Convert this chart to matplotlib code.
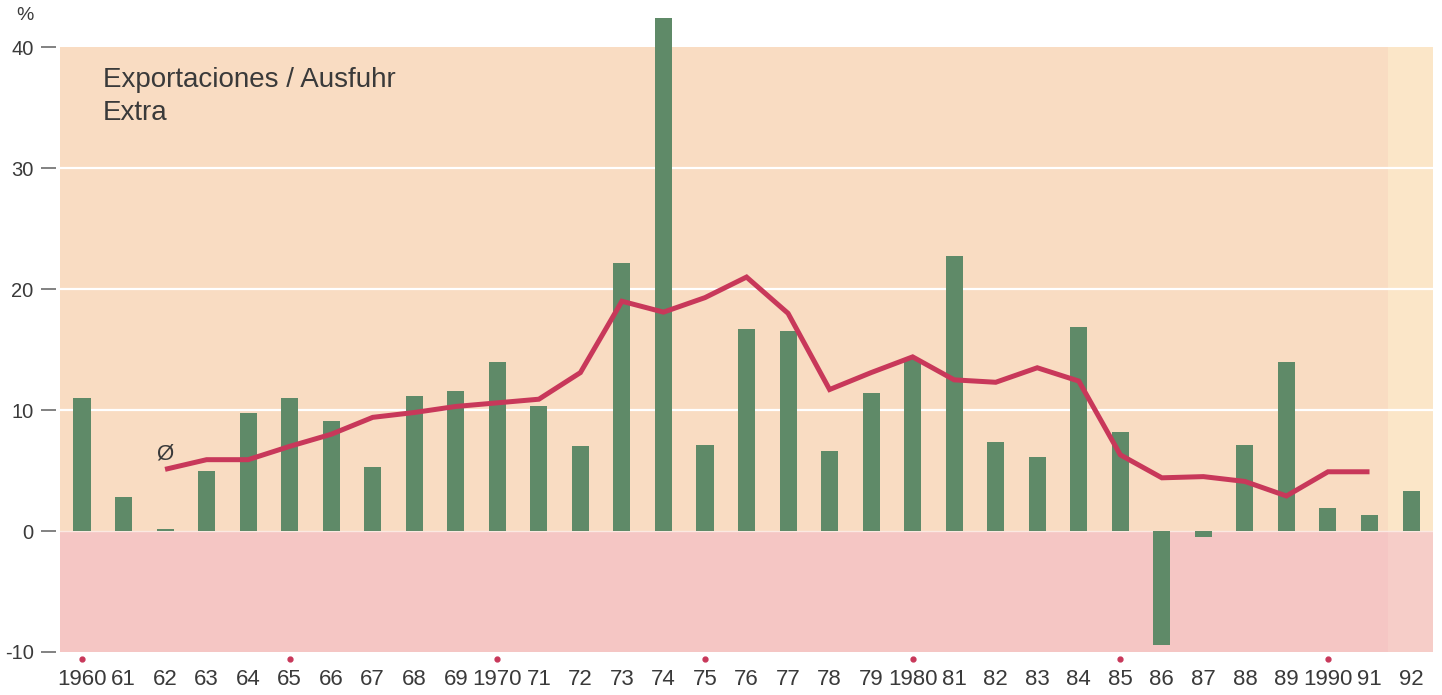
import matplotlib
matplotlib.use("Agg")
import matplotlib.pyplot as plt

# Ausfuhr Extra, Veränderung gegenüber Vorjahr in %
years = list(range(1960, 1993))
growth = [11.0, 2.8, 0.2, 5.0, 9.8, 11.0, 9.1, 5.3, 11.2, 11.6,
          14.0, 10.3, 7.0, 22.2, 42.4, 7.1, 16.7, 16.5, 6.6, 11.4,
          14.2, 22.7, 7.4, 6.1, 16.9, 8.2, -9.4, -0.5, 7.1, 14.0,
          1.9, 1.3, 3.3]
# gleitender Durchschnitt (Ø)
avg_years = list(range(1962, 1992))
avg = [5.1, 5.9, 5.9, 7.0, 8.0, 9.4, 9.8, 10.3, 10.6, 10.9,
       13.1, 19.0, 18.1, 19.3, 21.0, 18.0, 11.7, 13.1, 14.4, 12.5,
       12.3, 13.5, 12.4, 6.3, 4.4, 4.5, 4.1, 2.9, 4.9, 4.9]
tick_labels = ["1960"] + [f"{y % 100:02d}" for y in years[1:]]
tick_labels[10] = "1970"
tick_labels[20] = "1980"
tick_labels[30] = "1990"
dot_years = [1960, 1965, 1970, 1975, 1980, 1985, 1990]

TXT = "#3a3a3a"
plt.rcParams["font.family"] = ["Liberation Sans", "DejaVu Sans"]

fig = plt.figure(figsize=(14.42, 6.95), dpi=100)
ax = fig.add_axes([0.0416, 0.0619, 0.9522, 0.9223])
ax.set_xlim(1959.47, 1992.53)
ax.set_ylim(-10, 43)

# Hintergrund
ax.axhspan(0, 40, color="#f9dcc2", lw=0, zorder=0)
ax.axhspan(-10, 0, color="#f5c6c4", lw=0, zorder=0)
ax.fill_between([1991.45, 1992.53], 0, 40, color="#fbe6c8", lw=0, zorder=0.5)
ax.fill_between([1991.45, 1992.53], -10, 0, color="#f6cdc8", lw=0, zorder=0.5)
for g in [10, 20, 30]:
    ax.axhline(g, color="white", lw=1.6, zorder=1)
ax.axhline(0, color="#fbe9e2", lw=1.0, zorder=1)

ax.bar(years, growth, width=0.41, color="#5f8a68", zorder=2)
ax.plot(avg_years, avg, color="#c8385a", lw=3.6, solid_joinstyle="miter",
        solid_capstyle="butt", zorder=3)
ax.text(1962.0, 6.4, "Ø", fontsize=16, color=TXT, ha="center", va="center")

ax.text(1960.5, 36.7, "Exportaciones / Ausfuhr", fontsize=20, color=TXT,
        va="baseline", ha="left")
ax.text(1960.5, 34.0, "Extra", fontsize=20, color=TXT, va="baseline", ha="left")

# Achsen
for s in ax.spines.values():
    s.set_visible(False)
ax.spines["left"].set_position(("outward", 3))
ax.set_yticks([-10, 0, 10, 20, 30, 40])
ax.set_yticklabels(["-10", "0", "10", "20", "30", "40"])
ax.tick_params(axis="y", length=11, width=1.3, color="#777777", pad=5,
               labelsize=14.5, labelcolor=TXT)
ax.set_xticks(years)
ax.set_xticklabels(tick_labels)
ax.tick_params(axis="x", length=0, pad=12.5, labelsize=16, labelcolor=TXT)

ax.plot(dot_years, [-0.011] * len(dot_years), "o", ms=3.5, color="#c8385a",
        transform=ax.get_xaxis_transform(), clip_on=False)

fig.text(0.0175, 0.978, "%", fontsize=14, color=TXT, ha="center", va="center")

fig.savefig("out.png", dpi=100)
